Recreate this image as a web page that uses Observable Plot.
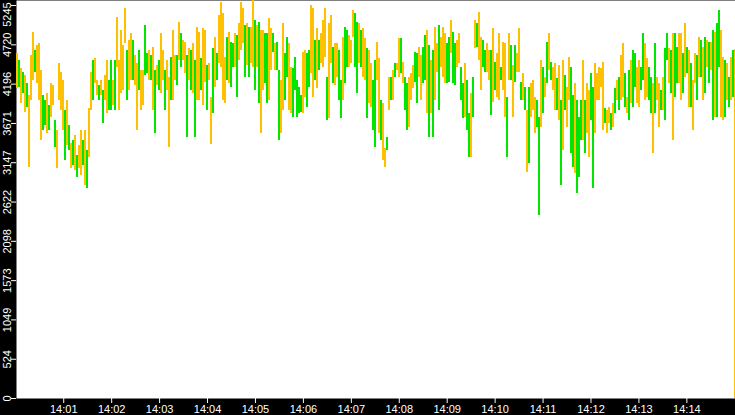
<!DOCTYPE html>
<html><head><meta charset="utf-8">
<script src="https://cdn.jsdelivr.net/npm/d3@7"></script>
<script src="https://cdn.jsdelivr.net/npm/@observablehq/plot@0.6"></script>
<style>
html,body{margin:0;padding:0;background:#000;}
#chart{width:735px;height:415px;overflow:hidden;}
</style></head><body><div id="chart"></div>
<script>
// bar highs (one bar every 2.5 s)
const high = [
4604,4511,4404,4351,4311,4204,4044,4578,4885,4644,
4711,4738,4377,4044,3977,4070,3910,4204,4177,3710,
3576,4471,4351,4244,3843,3977,3643,3403,3443,3510,
3243,3376,3576,3443,3576,3309,3870,4351,4511,4538,
4244,4177,4244,4110,4311,4511,4244,4511,4244,4511,
5085,4511,4911,4711,5205,4644,4778,4871,4778,4578,
4471,4644,4377,4377,4978,4604,4644,4578,4685,4377,
4444,4511,4871,4644,4377,4511,4284,4551,4911,4578,
4578,5018,4871,4778,4751,4578,4671,4644,4738,4511,
4952,4885,4538,4938,4911,4444,4471,4017,4671,4818,
4604,5112,5285,5138,4551,4818,4885,4751,4738,4871,
4845,5005,5285,5205,4978,5005,4952,4952,5312,5045,
4978,5018,4911,4911,4871,4871,5072,4938,4871,4738,
4751,4377,4244,5005,4604,4818,4738,4417,4404,4551,
4244,4151,4044,4618,4644,4604,4644,5245,5205,4778,
4938,4778,4871,5045,5205,4284,5005,5112,4685,4738,
4738,4644,4244,4818,4952,4911,4845,4778,5178,5138,
5018,5005,4911,4938,4805,4671,4644,4471,4244,4511,
4751,4538,3977,3937,3336,3483,4284,4284,4377,4471,
4471,4805,4805,4484,4284,4204,4284,4337,4444,4618,
4604,4685,4578,4685,4845,4911,4711,4511,4644,4952,
4738,4978,4818,4952,4871,4738,4818,5045,4885,4738,
4778,4871,4417,4204,4471,4244,3803,4070,4284,5045,
5005,5152,4818,4778,4644,4738,4644,4644,4938,4484,
4604,4871,4417,4751,4738,4017,4871,4711,4444,4711,
4604,4938,4217,4337,4151,3843,4151,4204,4244,4017,
3977,3750,4511,4417,4284,4751,4871,4484,4417,4471,
4271,4444,3977,4511,4311,4151,4551,4417,4044,4204,
3977,3750,3977,4511,3977,4204,4110,4337,4151,4471,
4337,4417,4404,4484,3870,3843,3884,3803,3937,4137,
4244,4284,4578,4738,4337,4017,4377,4511,4644,4604,
4417,4511,4417,4871,4738,4538,4417,4284,4204,4738,
4284,4204,4110,4284,4671,4871,4671,4644,4871,4871,
4685,4871,4871,4604,5005,4685,4644,4471,4244,4604,
4578,4818,4778,4685,4818,4778,4751,4751,4911,4885,
5005,5178,4911,4551,4511,4471,4284,4551,4644,4658
];
// bar lows
const low = [
4137,4151,3937,4070,3817,3884,3082,3977,4244,4351,
4204,3977,3443,3576,3643,3536,3576,3750,3910,3350,
3069,3977,3843,3576,3176,3376,3309,3069,3109,3042,
2949,3069,2976,3109,2842,2802,3216,3843,3977,4204,
4044,3977,4044,3670,3977,3803,3843,3843,3910,3843,
4417,3843,4070,4110,4738,3977,4110,4244,4244,4177,
3576,4110,3843,3910,4311,4337,4244,4244,3843,3536,
4177,4110,4070,4244,3843,4110,3350,3977,3977,4244,
4177,4511,4417,4511,4337,3483,4244,4110,4070,3483,
3977,3977,4110,3910,4217,3843,4244,3390,3803,4151,
4244,4471,4417,3977,3937,4244,4204,4151,4417,4417,
4017,4511,4644,4738,4284,4444,4284,4471,4417,4110,
4417,3937,3536,4110,4204,3937,3977,4377,4618,4377,
4377,3443,3536,3843,3977,4284,3843,3803,3750,4110,
3750,3803,3817,3803,4017,3884,4151,4337,4017,4244,
4137,4377,4471,4417,4551,3710,3737,4471,4204,4177,
4284,3977,3737,3977,4204,4417,4417,4471,4818,4417,
4070,4471,4417,4284,4244,3737,3937,3884,3576,3350,
4244,3536,3443,3176,3082,3309,3843,3977,3977,4284,
4377,4284,4337,4204,3843,3576,3616,3977,4137,4217,
3937,4284,3977,4204,4244,3803,3483,3803,3483,3977,
4351,3843,4417,4284,4204,4204,4217,4604,4204,4177,
4417,4471,3977,3737,3750,3576,3216,3216,3750,4671,
4685,4511,4110,4417,4351,4351,4244,3777,3950,4110,
4017,3977,4244,4110,3750,3216,4244,4244,3750,4217,
4351,4351,3977,3977,3843,3016,3136,3750,3843,3536,
3616,2442,3616,3803,4017,4204,4377,4244,4110,3843,
3843,3710,2842,3309,3843,3616,3977,3269,3082,3002,
2735,2949,3443,3443,3269,3536,3216,3710,2802,3536,
3977,3977,4151,3576,3670,3536,3670,3576,3616,3803,
3977,3843,3977,4017,3884,3803,3710,3937,3884,4151,
3937,3884,4110,4244,3977,4017,3977,3803,3269,3803,
3977,3616,3843,3843,3710,4511,4204,4070,3443,4017,
4204,4204,3977,4070,4284,4337,3884,3884,3576,4204,
3977,4284,4284,3977,4070,4417,4204,4377,3710,3750,
3750,4417,3750,3710,3750,3977,3884,3977,4017,0
];
// bar colour class: g = green, o = orange
const dir = [
"ogogogooog","oooggogoog","oooogogogo","googogoogo","ogogooggog",
"ooooogoogo","ogooggogog","ogoogoogoo","gogoogogog","oogoogoogo",
"goooogoggo","gooogogoog","ogooggoogo","ggooggoogg","gggooggoog",
"ogooogoogo","oggoggooog","gogoogoogg","oogoogogog","oogoggooog",
"googgogogo","ogoooggogg","ooggoggogo","googgoogog","oogoogogog",
"oogogogooo","ggogogogoo","gogogooggo","gggogooggo","oooogoogog",
"ogoogogogg","ooggooggog","oogoggogog","googogogoo","gogogogogo",
"ggoogogogo"
].join("").split("");

const yTicks = [0,524,1049,1573,2098,2622,3147,3671,4196,4720,5245];
const xTickLabels = ["14:01","14:02","14:03","14:04","14:05","14:06","14:07",
                     "14:08","14:09","14:10","14:11","14:12","14:13","14:14"];
const yTop = 5312;

const startTime = Date.UTC(2024,0,1,14,0,2,125); // first bar
const step = 2500; // ms between bars
const data = high.map((h, i) => ({
  t: new Date(startTime + i * step),
  high: h,
  low: low[i],
  c: dir[i]
}));
const xTicks = xTickLabels.map(s => {
  const [h, m] = s.split(":").map(Number);
  return new Date(Date.UTC(2024,0,1,h,m,0));
});

const colorOf = {g: "#00e600", o: "#ffc000"};
const axisFont = {stroke: "#fff", fill: "#fff"};

const chart = Plot.plot({
  width: 735,
  height: 415,
  marginLeft: 16,
  marginRight: 0,
  marginTop: 0,
  marginBottom: 17,
  style: {background: "#000", color: "#fff", fontFamily: "'Liberation Sans', Arial, sans-serif", fontSize: "11px"},
  x: {type: "utc", domain: [new Date(startTime - step / 2), new Date(startTime + 359.5 * step)], label: null},
  y: {domain: [0, yTop], label: null},
  marks: [
    Plot.frame({fill: "#fff", stroke: "none"}),
    Plot.ruleX(data, {
      x: "t", y1: "low", y2: "high",
      stroke: d => colorOf[d.c],
      strokeWidth: 2,
      shapeRendering: "crispEdges"
    }),
    Plot.axisX({ticks: xTicks, tickFormat: d3.utcFormat("%H:%M"), tickSize: 5, tickPadding: 2, ...axisFont, label: null}),
    Plot.axisY({ticks: yTicks.slice(0, -1), tickFormat: d => String(d), tickRotate: -90, tickSize: 5, tickPadding: 1, ...axisFont, label: null}),
    Plot.axisY({ticks: yTicks.slice(-1), tickFormat: () => "", tickSize: 5, ...axisFont, label: null}),
    Plot.axisY({ticks: yTicks.slice(-1), tickFormat: d => String(d), tickRotate: -90, tickSize: 5, tickPadding: 1, stroke: "none", fill: "#fff", dy: 9, label: null})
  ]
});
document.getElementById("chart").appendChild(chart);
</script>
</body></html>
